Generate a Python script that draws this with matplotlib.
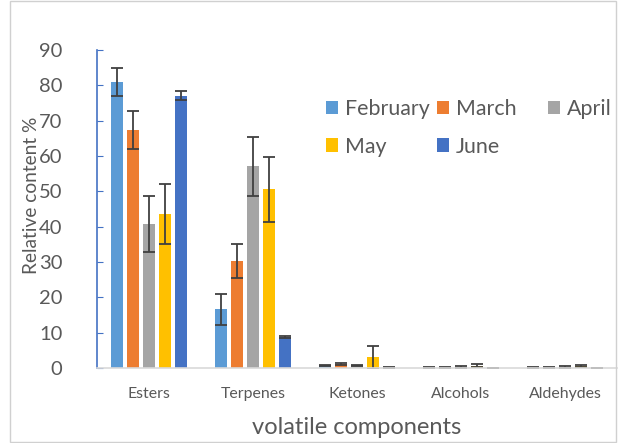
import matplotlib
matplotlib.use("Agg")
import matplotlib.pyplot as plt
import numpy as np

plt.rcParams["font.family"] = ["Lato", "DejaVu Sans"]

CATEGORIES = ["Esters", "Terpenes", "Ketones", "Alcohols", "Aldehydes"]
MONTHS = ["February", "March", "April", "May", "June"]
COLORS = ["#5B9BD5", "#ED7D31", "#A5A5A5", "#FFC000", "#4472C4"]

# relative content (%) per month, one value per category
february = [80.9, 16.6, 0.7, 0.1, 0.1]
march = [67.3, 30.3, 1.2, 0.2, 0.2]
april = [40.8, 57.1, 0.7, 0.3, 0.3]
may = [43.6, 50.6, 3.0, 0.6, 0.5]
june = [77.1, 8.8, 0.2, 0.0, 0.0]

february_err = [4.0, 4.3, 0.2, 0.1, 0.1]
march_err = [5.3, 4.9, 0.3, 0.1, 0.1]
april_err = [8.0, 8.3, 0.2, 0.2, 0.2]
may_err = [8.5, 9.2, 3.3, 0.4, 0.3]
june_err = [1.3, 0.3, 0.1, 0.0, 0.0]

values = [february, march, april, may, june]
errors = [february_err, march_err, april_err, may_err, june_err]

TEXT_COLOR = "#595959"

fig = plt.figure(figsize=(6.19, 4.43), dpi=100)
ax = fig.add_axes([97 / 619, 1 - 368 / 443, 520 / 619, 318 / 443])

x = np.arange(len(CATEGORIES))
step = 0.155
width = 0.118
handles = []
for i, (month, vals, errs, color) in enumerate(zip(MONTHS, values, errors, COLORS)):
    bars = ax.bar(
        x + (i - 2) * step,
        vals,
        width,
        color=color,
        label=month,
        yerr=errs,
        error_kw=dict(ecolor="#404040", elinewidth=1.3, capsize=4.5, capthick=1.3),
        zorder=2,
    )
    handles.append(bars)

ax.set_xlim(-0.5, len(CATEGORIES) - 0.5)
ax.set_ylim(0, 90)
ax.set_yticks(range(0, 91, 10))
ax.set_xticks(x)
ax.set_xticklabels(CATEGORIES)

for side in ["top", "right"]:
    ax.spines[side].set_visible(False)
ax.spines["left"].set_color("#4472C4")
ax.spines["left"].set_linewidth(1.2)
ax.spines["bottom"].set_color("#D9D9D9")
ax.spines["bottom"].set_linewidth(1.2)

ax.tick_params(axis="y", direction="in", length=4, color="#4472C4",
               labelsize=14.5, labelcolor=TEXT_COLOR, pad=25)
ax.tick_params(axis="x", length=0, labelsize=11.4, labelcolor=TEXT_COLOR, pad=14)

ax.set_ylabel("Relative content %", fontsize=13.8, color=TEXT_COLOR)
ax.yaxis.set_label_coords(-0.11, 0.544)
ax.set_xlabel("volatile components", fontsize=17, color=TEXT_COLOR, labelpad=11)

# Excel-style legend: three equal-width columns, filled row by row
legend_columns = [[0, 3], [1, 4], [2]]
column_x = [326, 437, 548]
for col, left in zip(legend_columns, column_x):
    fig.legend(
        [handles[k] for k in col],
        [MONTHS[k] for k in col],
        loc="upper left",
        bbox_to_anchor=(left / 619, 1 - 99 / 443),
        frameon=False,
        fontsize=15.4,
        labelcolor=TEXT_COLOR,
        handlelength=0.58,
        handleheight=0.58,
        handletextpad=0.3,
        labelspacing=0.82,
        borderpad=0,
        borderaxespad=0,
    )

fig.patches.append(plt.Rectangle((10 / 619, 0.003), 606 / 619, 0.994,
                                 transform=fig.transFigure, fill=False,
                                 edgecolor="#D0D0D0", linewidth=1))

fig.savefig("out.png", dpi=100)
